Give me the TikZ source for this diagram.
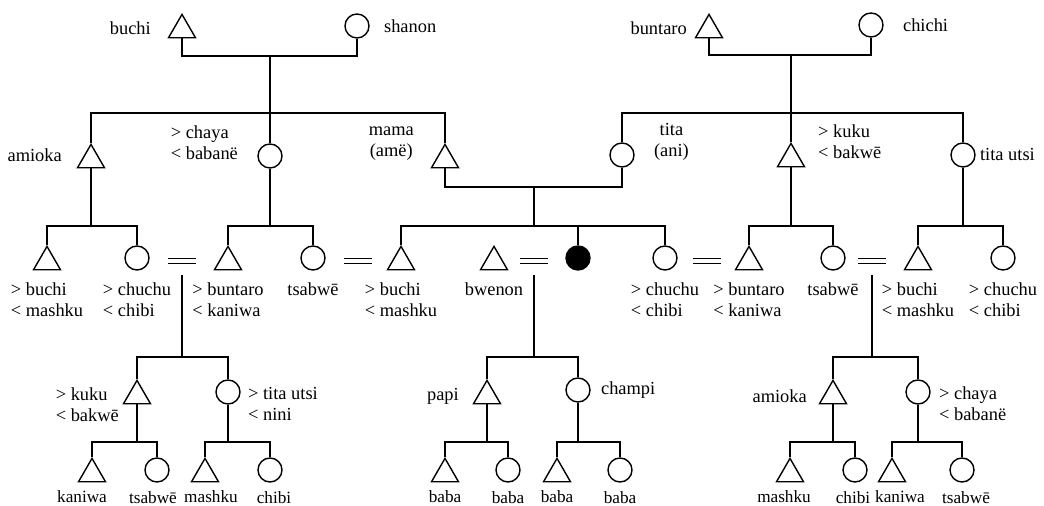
\documentclass[tikz,border=0pt]{standalone}
\usepackage{fontspec}
\setmainfont{Liberation Serif}
\usetikzlibrary{shapes.geometric, positioning, calc}

\begin{document}
\begin{tikzpicture}[
    x=0.5pt, y=-0.5pt,
    node distance=4pt,
    male/.style={regular polygon, regular polygon sides=3, draw, line width=0.7pt, minimum size=15.6pt, inner sep=0pt, yshift=-2pt},
    female/.style={circle, draw, line width=0.7pt, minimum size=12pt, inner sep=0pt},
    ego/.style={female, fill=black},
    wed/.style={minimum width=14pt, minimum height=2pt, inner sep=0pt},
    lbl/.style={font=\fontsize{9.2}{10.5}\selectfont, inner sep=1pt, align=left},
    kid/.style={lbl, font=\fontsize{8.6}{10}\selectfont},
    link/.style={draw, line width=0.6pt},
    pair/.style={draw, double, double distance=1.6pt, line width=0.6pt}
]
\useasboundingbox (0,0) rectangle (1044,506);

% oldest generation
\node[male] (buchiA) at (182,26) {};
\node[female] (shanon) at (357,26) {};
\node[male] (buntaroA) at (709,26) {};
\node[female] (chichi) at (871,25) {};
\node[lbl, left=9.5pt of buchiA, yshift=1pt] (buchiAt) {buchi};
\node[lbl, right=6pt of shanon] (shanonT) {shanon};
\node[lbl, left=5pt of buntaroA, yshift=1pt] (buntaroAt) {buntaro};
\node[lbl, right=8.5pt of chichi] (chichiT) {chichi};

\coordinate (u1) at (270,56);
\coordinate (s1) at (270,113);
\coordinate (u2) at (791,55);
\coordinate (s2) at (791,113);

% second generation
\node[male] (amiokaA) at (91,156) {};
\node[female] (chayaA) at (270,156) {};
\node[male] (mama) at (445,156) {};
\node[female] (tita) at (622,155) {};
\node[male] (kukuA) at (791,155) {};
\node[female] (titautsiA) at (963,155) {};
\node[lbl, left=8.5pt of amiokaA, yshift=2.5pt] (amiokaAt) {amioka};
\node[lbl, left=8.5pt of chayaA, yshift=6.5pt] (chayaAt) {> chaya\\< babanë};
\node[lbl, left=9.5pt of mama, yshift=8pt, align=center] (mamaT) {mama\\(amë)};
\node[lbl, right=8.5pt of tita, yshift=6.5pt, align=center] (titaT) {tita\\(ani)};
\node[lbl, right=7.5pt of kukuA, yshift=8.5pt] (kukuAt) {> kuku\\< bakwē};
\node[lbl, right=1pt of titautsiA] (titautsiAt) {tita utsi};

\coordinate (u3) at (534,187);
\coordinate (s3) at (534,226);
\coordinate (s4) at (91,226);
\coordinate (s5) at (270,226);
\coordinate (s6) at (791,226);
\coordinate (s7) at (963,226);

% third generation
\node[male] (buchiB) at (47,258) {};
\node[female] (chuchuA) at (137,258) {};
\node[male] (buntaroB) at (228,258) {};
\node[female] (tsabweA) at (313,258) {};
\node[male] (buchiC) at (401,258) {};
\node[male] (bwenon) at (494,258) {};
\node[ego] (ego) at (578,258) {};
\node[female] (chuchuB) at (665,258) {};
\node[male] (buntaroC) at (749,258) {};
\node[female] (tsabweB) at (833,258) {};
\node[male] (buchiD) at (918,258) {};
\node[female] (chuchuC) at (1003,258) {};

\node[wed] (w1) at (182,261) {};
\node[wed] (w2) at (358,261) {};
\node[wed] (w3) at (534,261) {};
\node[wed] (w4) at (707,261) {};
\node[wed] (w5) at (872,261) {};

\node[lbl, below=5pt of buchiB] (buchiBt) {> buchi\\< mashku};
\node[lbl, below=5pt of chuchuA] (chuchuAt) {> chuchu\\< chibi};
\node[lbl, below=5pt of buntaroB] (buntaroBt) {> buntaro\\< kaniwa};
\node[lbl, below=5pt of tsabweA] (tsabweAt) {tsabwē};
\node[lbl, below=5pt of buchiC] (buchiCt) {> buchi\\< mashku};
\node[lbl, below=5pt of bwenon] (bwenonT) {bwenon};
\node[lbl, below=5pt of chuchuB] (chuchuBt) {> chuchu\\< chibi};
\node[lbl, below=5pt of buntaroC] (buntaroCt) {> buntaro\\< kaniwa};
\node[lbl, below=5pt of tsabweB] (tsabweBt) {tsabwē};
\node[lbl, below=5pt of buchiD] (buchiDt) {> buchi\\< mashku};
\node[lbl, below=5pt of chuchuC] (chuchuCt) {> chuchu\\< chibi};

\coordinate (s8) at (182,357);
\coordinate (s9) at (534,357);
\coordinate (s10) at (872,357);

% fourth generation
\node[male] (kukuB) at (137,392) {};
\node[female] (titautsiB) at (228,392) {};
\node[male] (papi) at (487,392) {};
\node[female] (champi) at (578,390) {};
\node[male] (amiokaB) at (833,392) {};
\node[female] (chayaB) at (918,392) {};
\node[lbl, left=3pt of kukuB, yshift=-4.5pt] (kukuBt) {> kuku\\< bakwē};
\node[lbl, right=2.5pt of titautsiB, yshift=-6pt] (titautsiBt) {> tita utsi\\< nini};
\node[lbl, left=8pt of papi] (papiT) {papi};
\node[lbl, right=4pt of champi] (champiT) {champi};
\node[lbl, left=7pt of amiokaB] (amiokaBt) {amioka};
\node[lbl, right=3pt of chayaB, yshift=-6pt] (chayaBt) {> chaya\\< babanë};

\coordinate (s11) at (137,442);
\coordinate (s12) at (228,442);
\coordinate (s13) at (487,442);
\coordinate (s14) at (578,442);
\coordinate (s15) at (833,442);
\coordinate (s16) at (918,442);

% fifth generation
\node[male] (kaniwaA) at (92,470) {};
\node[female] (tsabweC) at (157,470) {};
\node[male] (mashkuA) at (205,470) {};
\node[female] (chibiA) at (270,470) {};
\node[male] (babaA) at (445,470) {};
\node[female] (babaB) at (508,470) {};
\node[male] (babaC) at (557,470) {};
\node[female] (babaD) at (620,470) {};
\node[male] (mashkuB) at (790,470) {};
\node[female] (chibiB) at (855,470) {};
\node[male] (kaniwaB) at (892,470) {};
\node[female] (tsabweD) at (962,470) {};
\node[kid, below=3pt of kaniwaA, xshift=-5pt] (kaniwaAt) {kaniwa};
\node[kid, below=3pt of tsabweC, xshift=-2pt] (tsabweCt) {tsabwē};
\node[kid, below=3pt of mashkuA, xshift=3pt] (mashkuAt) {mashku};
\node[kid, below=3pt of chibiA, xshift=2pt] (chibiAt) {chibi};
\node[kid, below=3pt of babaA] (babaAt) {baba};
\node[kid, below=3pt of babaB] (babaBt) {baba};
\node[kid, below=3pt of babaC] (babaCt) {baba};
\node[kid, below=3pt of babaD] (babaDt) {baba};
\node[kid, below=3pt of mashkuB, xshift=-3pt] (mashkuBt) {mashku};
\node[kid, below=3pt of chibiB, xshift=-1pt] (chibiBt) {chibi};
\node[kid, below=3pt of kaniwaB, xshift=4pt] (kaniwaBt) {kaniwa};
\node[kid, below=3pt of tsabweD, xshift=2pt] (tsabweDt) {tsabwē};

% descent lines
\draw[link] (buchiA.south) |- (u1) -| (shanon.south);
\draw[link] (u1) -- (s1);
\draw[link] (amiokaA.north) |- (s1) -| (mama.north);
\draw[link] (s1) -- (chayaA.north);
\draw[link] (buntaroA.south) |- (u2) -| (chichi.south);
\draw[link] (u2) -- (s2);
\draw[link] (tita.north) |- (s2) -| (titautsiA.north);
\draw[link] (s2) -- (kukuA.north);

\draw[link] (mama.south) |- (u3) -| (tita.south);
\draw[link] (u3) -- (s3);
\draw[link] (buchiC.north) |- (s3) -| (chuchuB.north);
\draw[link] (ego.north) -- (ego.north |- s3);
\draw[link] (amiokaA.south) -- (s4);
\draw[link] (buchiB.north) |- (s4) -| (chuchuA.north);
\draw[link] (chayaA.south) -- (s5);
\draw[link] (buntaroB.north) |- (s5) -| (tsabweA.north);
\draw[link] (kukuA.south) -- (s6);
\draw[link] (buntaroC.north) |- (s6) -| (tsabweB.north);
\draw[link] (titautsiA.south) -- (s7);
\draw[link] (buchiD.north) |- (s7) -| (chuchuC.north);

% marriages
\draw[pair] (w1.west) -- (w1.east);
\draw[pair] (w2.west) -- (w2.east);
\draw[pair] (w3.west) -- (w3.east);
\draw[pair] (w4.west) -- (w4.east);
\draw[pair] (w5.west) -- (w5.east);
\draw[link, shorten <=6pt] (w1.south) -- (s8);
\draw[link, shorten <=6pt] (w3.south) -- (s9);
\draw[link, shorten <=6pt] (w5.south) -- (s10);
\draw[link] (kukuB.north) |- (s8) -| (titautsiB.north);
\draw[link] (papi.north) |- (s9) -| (champi.north);
\draw[link] (amiokaB.north) |- (s10) -| (chayaB.north);

\draw[link] (kukuB.south) -- (s11);
\draw[link] (kaniwaA.north) |- (s11) -| (tsabweC.north);
\draw[link] (titautsiB.south) -- (s12);
\draw[link] (mashkuA.north) |- (s12) -| (chibiA.north);
\draw[link] (papi.south) -- (s13);
\draw[link] (babaA.north) |- (s13) -| (babaB.north);
\draw[link] (champi.south) -- (s14);
\draw[link] (babaC.north) |- (s14) -| (babaD.north);
\draw[link] (amiokaB.south) -- (s15);
\draw[link] (mashkuB.north) |- (s15) -| (chibiB.north);
\draw[link] (chayaB.south) -- (s16);
\draw[link] (kaniwaB.north) |- (s16) -| (tsabweD.north);

\end{tikzpicture}
\end{document}
